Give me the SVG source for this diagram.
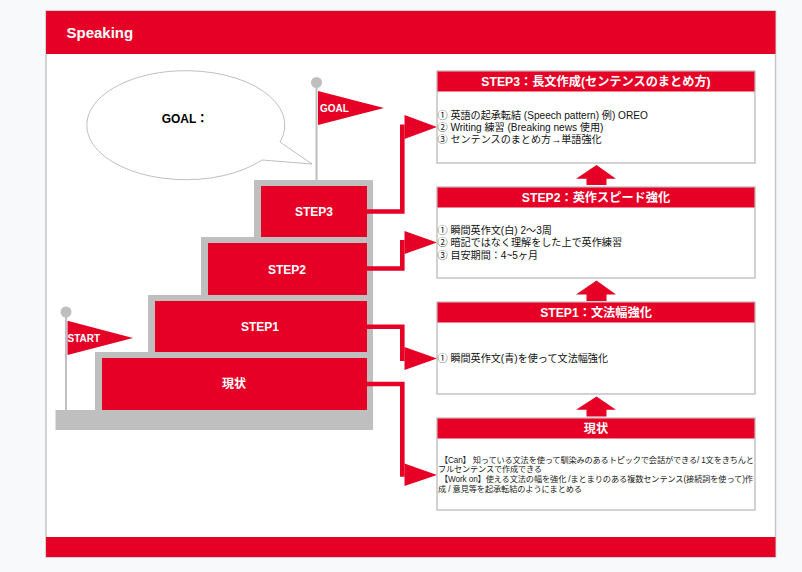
<svg xmlns="http://www.w3.org/2000/svg" width="802" height="572" viewBox="0 0 802 572">
<style>
text{font-family:"Liberation Sans","Noto Sans CJK JP",sans-serif}
.r{fill:#e60026}
.g{fill:#bfbfbf}
.w{fill:#fff;font-weight:bold;text-anchor:middle}
.st{font-size:12px}
.hd{font-size:12.2px}
.b{font-size:10.100px;fill:#111}
.s{font-size:8.200px;fill:#222}
.box{fill:#fff;stroke:#bbb;stroke-width:1.300}
.conn{fill:none;stroke:#e60026;stroke-width:4.600}
</style>
<rect width="802" height="572" fill="#f8f9fb"/>
<rect x="46" y="11" width="729.500" height="546" fill="#fff" stroke="#c8c8c8" stroke-width="1.500"/>
<g id="header"><rect class="r" x="46" y="11" width="729.500" height="43"/><text x="66.500" y="38" font-size="15" font-weight="bold" fill="#fff">Speaking</text></g>
<g id="footer"><rect class="r" x="46" y="537" width="729.500" height="20"/></g>
<g id="goal-bubble">
<path d="M262 160 A99 54.500 0 1 1 280 142 L312 164 Z" fill="#fff" stroke="#bfbfbf" stroke-width="1"/>
<text x="185" y="123" font-size="12" font-weight="bold" fill="#000" text-anchor="middle">GOAL：</text>
</g>
<g id="goal-flag">
<rect class="g" x="315.500" y="85" width="2" height="96"/><circle class="g" cx="316.500" cy="82.500" r="5.500"/>
<polygon class="r" points="318,91 384,108 318,125"/>
<text x="320" y="112" font-size="10" font-weight="bold" fill="#fff">GOAL</text>
</g>
<g id="start-flag">
<rect class="g" x="65" y="312" width="2" height="99"/><circle class="g" cx="66" cy="312" r="5.500"/>
<polygon class="r" points="67.500,320.700 133,338 67.500,355"/>
<text x="67.500" y="342" font-size="10" font-weight="bold" fill="#fff">START</text>
</g>
<g id="base"><rect class="g" x="55.500" y="410" width="317.500" height="20"/></g>
<g id="step3"><rect class="g" x="254" y="180" width="119" height="58"/><rect class="r" x="261" y="186" width="106" height="52"/><text class="w st" x="314" y="216">STEP3</text></g>
<g id="step2"><rect class="g" x="201" y="237" width="172" height="58"/><rect class="r" x="208" y="243" width="159" height="52"/><text class="w st" x="287" y="274">STEP2</text></g>
<g id="step1"><rect class="g" x="148" y="295" width="225" height="57"/><rect class="r" x="155" y="301" width="212" height="52"/><text class="w st" x="260" y="331">STEP1</text></g>
<g id="genjo"><rect class="g" x="95" y="352" width="278" height="58"/><rect class="r" x="102" y="358" width="265" height="52"/><text class="w st" x="234" y="388">現状</text></g>
<g id="connectors">
<polyline class="conn" points="367,211.500 402.300,211.500 402.300,124.500"/><polygon class="r" points="404.500,115 437,127 404.500,139"/>
<polyline class="conn" points="367,268.500 402.300,268.500 402.300,240"/><polygon class="r" points="404.500,231 437,242.500 404.500,254"/>
<polyline class="conn" points="367,326.800 402.300,326.800 402.300,361"/><polygon class="r" points="404.500,347 437,358.500 404.500,370"/>
<polyline class="conn" points="367,384 402.300,384 402.300,476.700"/><polygon class="r" points="404.500,463.500 437,475 404.500,486"/>
<polygon class="r" points="596.500,165 616,178.700 606.500,178.700 606.500,185 586.500,185 586.500,178.700 576,178.700"/>
<polygon class="r" points="596.500,280.500 616,294.500 606.500,294.500 606.500,301 586.500,301 586.500,294.500 576,294.500"/>
<polygon class="r" points="596.500,396.500 616,409.800 606.500,409.800 606.500,416.500 586.500,416.500 586.500,409.800 576,409.800"/>
</g>
<g id="box-step3"><rect class="box" x="437" y="71" width="318" height="92"/><rect class="r" x="437.500" y="71.500" width="317" height="20"/><text class="w hd" x="596" y="86">STEP3：長文作成(センテンスのまとめ方)</text>
<text class="b" x="437.500" y="119">① 英語の起承転結 (Speech pattern) 例) OREO</text><text class="b" x="437.500" y="131">② Writing 練習 (Breaking news 使用)</text><text class="b" x="437.500" y="143">③ センテンスのまとめ方→単語強化</text></g>
<g id="box-step2"><rect class="box" x="437" y="187" width="318" height="91"/><rect class="r" x="437.500" y="187.500" width="317" height="20"/><text class="w hd" x="596" y="201.500">STEP2：英作スピード強化</text>
<text class="b" x="437.500" y="234">① 瞬間英作文(白) 2〜3周</text><text class="b" x="437.500" y="246">② 暗記ではなく理解をした上で英作練習</text><text class="b" x="437.500" y="259">③ 目安期間：4~5ヶ月</text></g>
<g id="box-step1"><rect class="box" x="437" y="302" width="318" height="92"/><rect class="r" x="437.500" y="302.500" width="317" height="20"/><text class="w hd" x="596" y="317">STEP1：文法幅強化</text>
<text class="b" x="437.500" y="362">① 瞬間英作文(青)を使って文法幅強化</text></g>
<g id="box-genjo"><rect class="box" x="437" y="418" width="318" height="92"/><rect class="r" x="437.500" y="418.500" width="317" height="20"/><text class="w hd" x="596" y="433">現状</text>
<text class="s" x="440" y="463" textLength="314" lengthAdjust="spacing">【Can】 知っている文法を使って馴染みのあるトピックで会話ができる/ 1文をきちんと</text><text class="s" x="438" y="472" textLength="104" lengthAdjust="spacing">フルセンテンスで作成できる</text><text class="s" x="440" y="482" textLength="313" lengthAdjust="spacing">【Work on】使える文法の幅を強化 /まとまりのある複数センテンス(接続詞を使って)作</text><text class="s" x="438" y="492" textLength="144" lengthAdjust="spacing">成 / 意見等を起承転結のようにまとめる</text></g>
</svg>
